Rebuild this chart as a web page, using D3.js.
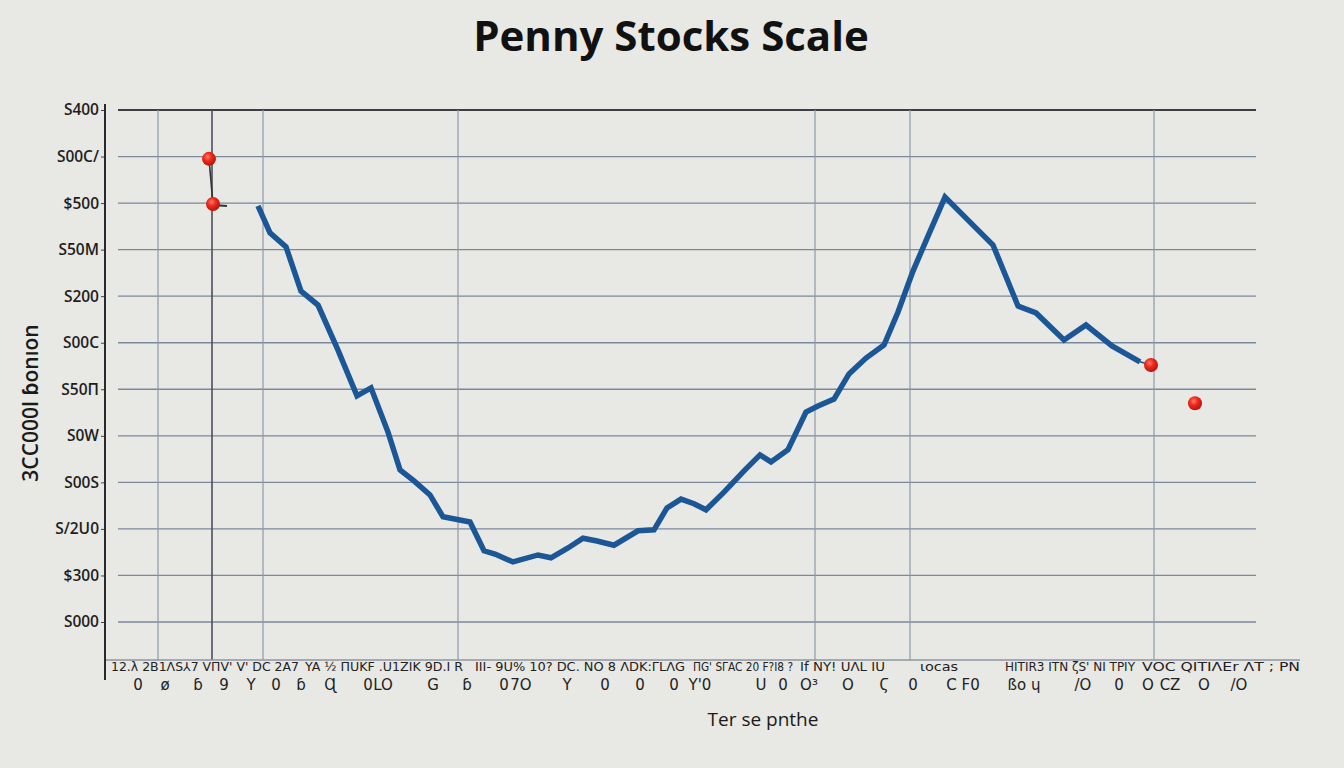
<!DOCTYPE html>
<html>
<head>
<meta charset="utf-8">
<script src="https://cdn.jsdelivr.net/npm/d3@7"></script>
<style>
  html, body { margin: 0; padding: 0; background: #e8e8e4; }
  svg { display: block; }
</style>
</head>
<body>
<svg id="chart" width="1344" height="768"></svg>
<script>
// ---------- data ----------
const chartTitle = "Penny Stocks Scale";
const xTitle = "Ter se pnthe";
const yTitle = "3CC000l ɓonıon";

// y tick values (grid levels) and their labels, bottom to top
const yTickValues = [0, 1, 2, 3, 4, 5, 6, 7, 8, 9, 10, 11];
const yTickLabels = ["S000", "$300", "S/2U0", "S00S", "S0W", "S50Π", "S00C", "S200", "S50M", "$500", "S00C/", "S400"];

// vertical grid positions (x units)
const xGridValues = [5.3, 10.7, 15.8, 35.3, 71.0, 80.5, 104.9];

// price line
const lineX = [15.3, 16.5, 18.1, 19.6, 21.3, 23.3, 25.2, 26.6, 28.3, 29.5, 30.9, 32.5, 33.8, 36.5, 37.9, 39.0, 40.8, 43.3, 44.6, 46.3, 47.8, 49.2, 50.9, 53.3, 54.9, 56.2, 57.6, 58.9, 60.1, 61.9, 64.0, 65.5, 66.6, 68.3, 70.1, 71.3, 72.9, 74.4, 76.1, 77.9, 79.3, 80.8, 82.3, 84.0, 86.5, 88.8, 91.3, 93.1, 95.9, 98.1, 100.7, 103.5];
const lineY = [8.94, 8.36, 8.06, 7.11, 6.81, 5.84, 4.86, 5.03, 4.08, 3.27, 3.03, 2.73, 2.26, 2.15, 1.53, 1.46, 1.29, 1.44, 1.38, 1.59, 1.80, 1.74, 1.65, 1.96, 1.98, 2.45, 2.64, 2.54, 2.41, 2.79, 3.27, 3.59, 3.44, 3.70, 4.51, 4.64, 4.79, 5.33, 5.67, 5.95, 6.66, 7.54, 8.29, 9.13, 8.59, 8.10, 6.79, 6.64, 6.06, 6.38, 5.93, 5.59];

// red markers
const dotX = [10.4, 10.8, 104.6, 109.0];
const dotY = [9.95, 8.98, 5.52, 4.70];

// x tick labels: two rows
const xRow1Start = [0.6, 20.0, 37.0, 58.8, 69.5, 81.5, 90.0, 103.7];
const xRow1End   = [19.4, 35.8, 58.0, 68.8, 78.0, 85.3, 103.0, 119.5];
const xRow1Labels = ["12.λ 2B1ΛS⅄7 VΠV' V' DC 2A7", "YA ½ ΠUKF .U1ZIK 9D.I R", "III- 9U% 10? DC. NO 8 ΛDK:ΓLΛG", "ΠG' SΓAC 20 F?I8 ?", "If NY! UΛL IU", "ιocas", "HITIR3 ITN ζS' NI TPIY", "VOC QITIΛEr ΛT ; PN"];

const xRow2Values = [3.3, 6.0, 9.3, 11.9, 14.6, 17.1, 19.6, 22.5, 26.3, 27.8, 32.8, 36.2, 39.9, 41.6, 46.2, 50.0, 53.5, 56.9, 59.5, 65.6, 67.8, 70.4, 74.3, 77.9, 80.8, 85.8, 91.9, 97.8, 101.4, 104.3, 106.5, 109.9, 113.4];
const xRow2Labels = ["0", "ø", "ɓ", "9", "Y", "0", "ɓ", "Ɋ", "0", "LO", "G", "ɓ", "0", "7O", "Y", "0", "0", "0", "Y'0", "U", "0", "O³", "O", "Ϛ", "0", "C F0", "ßo ɥ", "/O", "0", "O", "CZ", "O", "/O"];

// ---------- drawing ----------
const svg = d3.select("#chart");
const W = 1344, H = 768;

const x = d3.scaleLinear().domain([0, 115]).range([105, 1255]);
const y = d3.scaleLinear().domain([0, 11]).range([622, 110]);

const defs = svg.append("defs");
const grad = defs.append("radialGradient").attr("id", "dotGrad")
  .attr("cx", "40%").attr("cy", "35%").attr("r", "65%");
grad.append("stop").attr("offset", "0%").attr("stop-color", "#ff7a66");
grad.append("stop").attr("offset", "45%").attr("stop-color", "#ec2a1c");
grad.append("stop").attr("offset", "100%").attr("stop-color", "#b5150e");

svg.append("rect").attr("width", W).attr("height", H).attr("fill", "#e8e8e4");

// title
svg.append("text")
  .attr("x", 671).attr("y", 51)
  .attr("text-anchor", "middle")
  .style("font-family", "'Open Sans', 'Noto Sans', sans-serif")
  .style("font-weight", 700)
  .style("font-size", "42px")
  .attr("fill", "#111")
  .text(chartTitle);

// horizontal grid
const hGrid = svg.append("g");
hGrid.selectAll("line").data(yTickValues).join("line")
  .attr("x1", 118).attr("x2", 1256)
  .attr("y1", d => y(d)).attr("y2", d => y(d))
  .attr("stroke", d => d === 11 ? "#3e3e44" : "#7c889c")
  .attr("stroke-width", d => d === 11 ? 2 : 1.3);

// vertical grid
const vGrid = svg.append("g");
vGrid.selectAll("line").data(xGridValues).join("line")
  .attr("x1", d => x(d)).attr("x2", d => x(d))
  .attr("y1", y(11)).attr("y2", 660)
  .attr("stroke", d => d === 10.7 ? "#4a4f5a" : "#8f99aa")
  .attr("stroke-width", d => d === 10.7 ? 1.6 : 1.2);

// x baseline
svg.append("line")
  .attr("x1", 106).attr("x2", 1300)
  .attr("y1", 660).attr("y2", 660)
  .attr("stroke", "#8e96a2").attr("stroke-width", 1.5);

// y axis via d3
const yAxis = d3.axisLeft(y)
  .tickValues(yTickValues)
  .tickFormat((d, i) => yTickLabels[i])
  .tickSize(4).tickPadding(2);
const yg = svg.append("g").attr("transform", "translate(105,0)").call(yAxis);
yg.select(".domain").remove();
yg.selectAll(".tick line").attr("stroke", "#444");
yg.selectAll(".tick text")
  .style("font-family", "'Open Sans', 'Noto Sans', sans-serif")
  .style("font-size", "15.5px")
  .style("font-weight", 600)
  .attr("fill", "#1e1e1e");

// y axis line
svg.append("line")
  .attr("x1", 105).attr("x2", 105)
  .attr("y1", 104).attr("y2", 680)
  .attr("stroke", "#2a2a2e").attr("stroke-width", 2);

// y title
svg.append("text")
  .attr("transform", "translate(38,403) rotate(-90)")
  .attr("text-anchor", "middle")
  .style("font-family", "'Open Sans', 'Noto Sans', sans-serif")
  .style("font-size", "21px")
  .style("font-weight", 600)
  .attr("fill", "#1a1a1a")
  .text(yTitle);

// x labels row 1
const r1 = svg.append("g");
xRow1Labels.forEach((t, i) => {
  r1.append("text")
    .attr("x", x(xRow1Start[i])).attr("y", 671)
    .attr("textLength", x(xRow1End[i]) - x(xRow1Start[i]))
    .attr("lengthAdjust", "spacingAndGlyphs")
    .style("font-family", "'DejaVu Sans', sans-serif")
    .style("font-size", "12px")
    .attr("fill", "#222")
    .text(t);
});

// x labels row 2
svg.append("g").selectAll("text").data(xRow2Values).join("text")
  .attr("x", d => x(d)).attr("y", 690)
  .attr("text-anchor", "middle")
  .style("font-family", "'DejaVu Sans', sans-serif")
  .style("font-size", "15px")
  .attr("fill", "#222")
  .text((d, i) => xRow2Labels[i]);

// x title
svg.append("text")
  .attr("x", 763).attr("y", 726)
  .attr("text-anchor", "middle")
  .style("font-family", "'Open Sans', 'Noto Sans', sans-serif")
  .style("font-size", "19px")
  .attr("fill", "#1a1a1a")
  .text(xTitle);

// connectors near dots
svg.append("line")
  .attr("x1", x(dotX[0])).attr("y1", y(dotY[0]))
  .attr("x2", x(dotX[1])).attr("y2", y(dotY[1]))
  .attr("stroke", "#333").attr("stroke-width", 1.6);
svg.append("line")
  .attr("x1", x(dotX[1])).attr("y1", y(dotY[1]) + 1)
  .attr("x2", x(dotX[1]) + 14).attr("y2", y(dotY[1]) + 2)
  .attr("stroke", "#333").attr("stroke-width", 1.8);

// thin tail from line end to last-but-one dot
svg.append("line")
  .attr("x1", x(lineX[lineX.length - 1])).attr("y1", y(lineY[lineY.length - 1]))
  .attr("x2", x(dotX[2])).attr("y2", y(dotY[2]))
  .attr("stroke", "#1f5591").attr("stroke-width", 1.5);

// main line
const pts = lineX.map((d, i) => [d, lineY[i]]);
svg.append("path")
  .datum(pts)
  .attr("fill", "none")
  .attr("stroke", "#1b5796")
  .attr("stroke-width", 5.5)
  .attr("stroke-linejoin", "miter")
  .attr("d", d3.line().x(d => x(d[0])).y(d => y(d[1])));

// dots
svg.append("g").selectAll("circle").data(dotX).join("circle")
  .attr("cx", d => x(d))
  .attr("cy", (d, i) => y(dotY[i]))
  .attr("r", 7)
  .attr("fill", "url(#dotGrad)");
</script>
</body>
</html>
